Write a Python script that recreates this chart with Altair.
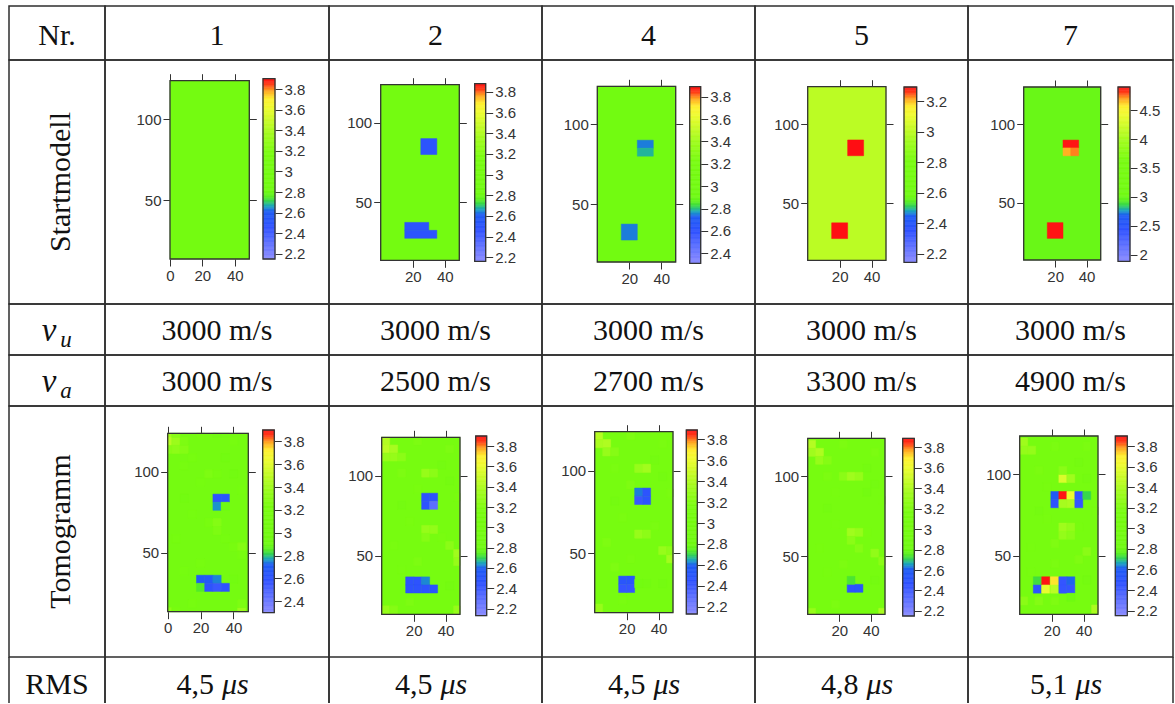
import altair as alt
import numpy as np
import pandas as pd

SERIF = "Liberation Serif"
SANS = "Liberation Sans"
GRID = "#2e2e2e"
INK = "#333333"

# ---------------- table layout ----------------
COL_W = [96, 224, 213, 213, 213, 205]
ROW_H = [54, 244, 51, 51, 251, 46]

# ---------------- table texts ----------------
HEADER = ["Nr.", "1", "2", "4", "5", "7"]
ROW_LABELS = ["Startmodell", "Tomogramm"]
V_U = ["3000 m/s", "3000 m/s", "3000 m/s", "3000 m/s", "3000 m/s"]
V_A = ["3000 m/s", "2500 m/s", "2700 m/s", "3300 m/s", "4900 m/s"]
RMS_NUM = ["4,5", "4,5", "4,5", "4,8", "5,1"]
RMS_UNIT = "μs"

# ---------------- heatmap axes ----------------
X_DOMAIN = [0, 49]
Y_DOMAIN = [13.75, 123.75]
Y_TICKS = [50, 100]
X_TICKS = [[0, 20, 40], [20, 40], [20, 40], [20, 40], [20, 40]]

# colour map (fraction of colour-bar range -> colour)
CMAP_POS = [0.0, 0.10, 0.18, 0.265, 0.295, 0.325, 0.35, 0.38, 0.58, 0.70, 0.84, 0.89, 0.935, 0.97, 1.0]
CMAP_COL = ["#8c8cff", "#5a6eff", "#3052ff", "#1e5cf4", "#1aa6bc", "#36d64c", "#5cf020", "#70fa12",
            "#78fc10", "#a4fc1e", "#eefc30", "#fff030", "#ffa420", "#ff3c18", "#ff1414"]

# ---------------- Startmodell ----------------
START_BASE = [3.0, 3.0, 3.0, 3.0, 3.0]
START_BLOCKS = [  # (x1, x2, y1, y2, value)
    [],
    [(25, 35, 80, 90, 2.5), (15, 30, 32.5, 37.5, 2.5), (15, 35, 27.5, 32.5, 2.5)],
    [(25, 35, 85, 90, 2.75), (25, 35, 80, 85, 2.79), (15, 25, 27.5, 37.5, 2.75)],
    [(25, 35, 80, 90, 3.3), (15, 25, 27.5, 37.5, 3.3)],
    [(25, 35, 85, 90, 4.9), (25, 30, 80, 85, 4.68), (30, 35, 80, 85, 4.74), (15, 25, 27.5, 37.5, 4.9)],
]
START_CB = [(2.15, 3.9), (2.16, 3.88), (2.31, 3.89), (2.145, 3.295), (1.885, 4.9)]
START_CB_TICKS = [
    [2.2, 2.4, 2.6, 2.8, 3.0, 3.2, 3.4, 3.6, 3.8],
    [2.2, 2.4, 2.6, 2.8, 3.0, 3.2, 3.4, 3.6, 3.8],
    [2.4, 2.6, 2.8, 3.0, 3.2, 3.4, 3.6, 3.8],
    [2.2, 2.4, 2.6, 2.8, 3.0, 3.2],
    [2.0, 2.5, 3.0, 3.5, 4.0, 4.5],
]
# (heat L, R, T, B, colourbar L, R, T, B) in cell pixels
START_LAYOUT = [
    (65, 144.3, 20.7, 199, 158, 170, 18.7, 199),
    (51.7, 130.3, 24.7, 200.3, 145.7, 156.7, 23.7, 201.3),
    (55.3, 133.7, 26.3, 202, 147.7, 158.7, 26.7, 203.3),
    (52.7, 131, 26.7, 200.3, 149, 161.7, 27, 202.3),
    (55.7, 132.7, 27, 200, 150, 162, 27, 201.3),
]

# ---------------- Tomogramm ----------------
TOMO_BASE = [3.1, 3.1, 3.1, 3.1, 3.1]
T1_CELLS = [  # (x centre, y centre, value), 5 x 5 cells
    (10, 103.75, 3.18), (20, 93.75, 3.16), (40, 98.75, 3.02), (15, 73.75, 3.16), (35, 58.75, 3.16),
    (20, 43.75, 3.18), (10, 38.75, 3.15), (40, 33.75, 3.02), (35, 108.75, 3.02), (40, 118.75, 3.18),
    (5, 58.75, 3.16), (15, 18.75, 3.18), (20, 123.75, 3.18), (45, 88.75, 3.16), (10, 83.75, 3.04),
    (30, 83.75, 2.6), (35, 83.75, 2.63), (30, 78.75, 2.76), (35, 78.75, 2.92),
    (20, 33.75, 2.7), (25, 33.75, 2.68), (30, 33.75, 2.75),
    (20, 28.75, 2.85), (25, 28.75, 2.6), (30, 28.75, 2.56), (35, 28.75, 2.6),
    (0, 123.75, 3.42), (0, 118.75, 3.48), (5, 118.75, 3.38), (5, 123.75, 3.3), (0, 113.75, 3.3),
    (5, 113.75, 3.32), (10, 113.75, 3.28), (10, 118.75, 3.25), (15, 108.75, 3.2),
    (25, 98.75, 3.25), (30, 98.75, 3.2), (25, 68.75, 3.22), (30, 68.75, 3.28), (30, 63.75, 3.25),
    (40, 53.75, 3.22), (45, 53.75, 3.28), (45, 48.75, 3.22),
    (0, 13.75, 3.32), (5, 13.75, 3.22), (45, 13.75, 3.38), (45, 18.75, 3.25),
    (30, 123.75, 2.98), (35, 123.75, 3.0),
]
T2_CELLS = [
    (12.5, 101.5, 3.18), (22.5, 91.5, 3.16), (42.5, 96.5, 3.02), (17.5, 71.5, 3.16), (37.5, 61.5, 3.16),
    (22.5, 46.5, 3.18), (12.5, 41.5, 3.15), (42.5, 31.5, 3.02), (37.5, 106.5, 3.02), (42.5, 116.5, 3.18),
    (7.5, 56.5, 3.16), (17.5, 21.5, 3.18), (22.5, 121.5, 3.18), (47.5, 86.5, 3.16), (12.5, 81.5, 3.04),
    (27.5, 86.5, 2.47), (32.5, 86.5, 2.47), (27.5, 81.5, 2.47), (32.5, 81.5, 2.3),
    (17.5, 34.5, 2.47), (22.5, 34.5, 2.47), (27.5, 34.5, 2.63),
    (17.5, 29.5, 2.47), (22.5, 29.5, 2.47), (27.5, 29.5, 2.47), (32.5, 29.5, 2.5),
    (2.5, 121.5, 3.42), (2.5, 116.5, 3.45), (7.5, 116.5, 3.38), (7.5, 111.5, 3.3), (2.5, 111.5, 3.3),
    (12.5, 111.5, 3.25), (27.5, 101.5, 3.3), (32.5, 101.5, 3.25), (27.5, 66.5, 3.3), (32.5, 66.5, 3.28),
    (27.5, 61.5, 3.22), (42.5, 56.5, 3.25), (47.5, 51.5, 3.35), (47.5, 46.5, 3.3),
    (2.5, 16.5, 3.3), (7.5, 16.5, 3.22), (47.5, 16.5, 3.3),
]
T4_CELLS = [
    (12.5, 101.5, 3.16), (22.5, 91.5, 3.18), (42.5, 96.5, 3.02), (17.5, 71.5, 3.16), (37.5, 66.5, 3.16),
    (22.5, 46.5, 3.16), (12.5, 41.5, 3.18), (42.5, 31.5, 3.02), (37.5, 106.5, 3.02), (42.5, 116.5, 3.16),
    (7.5, 56.5, 3.18), (17.5, 21.5, 3.16), (22.5, 121.5, 3.18), (47.5, 86.5, 3.16), (12.5, 81.5, 3.04),
    (27.5, 87, 2.62), (32.5, 87, 2.47), (27.5, 82, 2.42), (32.5, 82, 2.47),
    (17.5, 33.5, 2.5), (22.5, 33.5, 2.5), (17.5, 28.5, 2.43), (22.5, 28.5, 2.43),
    (2.5, 121.5, 3.42), (2.5, 116.5, 3.38), (7.5, 116.5, 3.4), (7.5, 111.5, 3.3), (12.5, 111.5, 3.22),
    (27.5, 101.5, 3.3), (32.5, 101.5, 3.35), (27.5, 61.5, 3.3), (32.5, 61.5, 3.25),
    (42.5, 51.5, 3.3), (47.5, 46.5, 3.35), (47.5, 51.5, 3.25), (2.5, 16.5, 3.3),
    (27.5, 31.5, 2.95), (32.5, 31.5, 2.98),
]
T5_CELLS = [
    (12.5, 100, 3.18), (17.5, 90, 3.16), (42.5, 95, 3.02), (17.5, 70, 3.16), (37.5, 65, 3.16),
    (22.5, 45, 3.18), (12.5, 40, 3.15), (42.5, 35, 3.02), (37.5, 105, 3.02), (42.5, 115, 3.18),
    (7.5, 55, 3.16), (17.5, 20, 3.18), (22.5, 120, 3.18), (47.5, 85, 3.16), (12.5, 80, 3.04),
    (27.5, 30, 2.47), (32.5, 30, 2.52), (27.5, 35, 2.74),
    (2.5, 120, 3.42), (2.5, 115, 3.35), (7.5, 115, 3.4), (7.5, 110, 3.3), (12.5, 110, 3.22),
    (22.5, 100, 3.25), (27.5, 100, 3.35), (32.5, 100, 3.3), (37.5, 90, 2.98),
    (27.5, 65, 3.35), (32.5, 65, 3.3), (27.5, 60, 3.25), (32.5, 55, 3.22), (42.5, 52, 3.28),
    (47.5, 47, 3.25), (2.5, 15, 3.3), (47.5, 15, 3.38),
]
T7_CELLS = [
    (12, 102.5, 3.18), (17, 92.5, 3.16), (42, 97.5, 3.02), (17, 72.5, 3.16), (37, 67.5, 3.16),
    (22, 45, 3.18), (7, 40, 3.15), (42, 35, 3.02), (37, 107.5, 3.02), (42, 117.5, 3.18),
    (7, 55, 3.16), (22, 117.5, 3.18), (47.5, 77.5, 3.16), (12, 77.5, 3.04),
    (22, 87, 2.6), (27, 87, 3.9), (32, 87, 3.62), (37, 87, 2.45), (42, 87, 2.72),
    (22, 82, 2.48), (27, 82, 3.38), (32, 82, 3.4), (37, 82, 2.45),
    (27, 97.5, 3.55), (32, 97.5, 3.35), (27, 102.5, 3.25),
    (11, 34.4, 2.73), (16.25, 34.4, 3.9), (21.75, 34.4, 3.72), (27, 34.4, 2.45), (32, 34.4, 2.62),
    (11, 29.3, 2.48), (16.25, 29.3, 3.6), (21.75, 29.3, 3.45), (27, 29.3, 2.45), (32, 29.3, 2.45),
    (32, 24.2, 2.82),
    (2.5, 120, 3.35), (2.5, 115, 3.3), (7.5, 115, 3.3), (27, 67.5, 3.35), (32, 67.5, 3.3),
    (27, 62.5, 3.3), (32, 62.5, 3.25), (22, 57.5, 3.2), (42, 52.5, 3.25), (37, 47.5, 3.2),
    (47.5, 17, 3.4), (2.5, 22, 3.25), (12, 22, 3.22), (22, 22, 3.2),
]
TOMO_CELLS = [T1_CELLS, T2_CELLS, T4_CELLS, T5_CELLS, T7_CELLS]
TOMO_CB = [(2.30, 3.90), (2.13, 3.90), (2.13, 3.89), (2.15, 3.89), (2.15, 3.90)]
TOMO_CB_TICKS = [
    [2.4, 2.6, 2.8, 3.0, 3.2, 3.4, 3.6, 3.8],
    [2.2, 2.4, 2.6, 2.8, 3.0, 3.2, 3.4, 3.6, 3.8],
    [2.2, 2.4, 2.6, 2.8, 3.0, 3.2, 3.4, 3.6, 3.8],
    [2.2, 2.4, 2.6, 2.8, 3.0, 3.2, 3.4, 3.6, 3.8],
    [2.2, 2.4, 2.6, 2.8, 3.0, 3.2, 3.4, 3.6, 3.8],
]
TOMO_LAYOUT = [
    (62.7, 143.3, 27.3, 205.7, 157.7, 169.3, 24, 206.7),
    (52.7, 131, 31.3, 208.3, 146.7, 157.7, 30, 209.7),
    (52.7, 131, 25.7, 206.7, 144.3, 155.3, 24, 208),
    (52.7, 130, 32.3, 208.3, 147.7, 159.3, 32.3, 210),
    (51.7, 130, 30, 208.3, 147.3, 159.3, 30, 209.7),
]

AXIS_STYLE = dict(labelFont=SANS, labelFontSize=15, labelColor=INK, tickColor=INK,
                  tickSize=7, tickWidth=1, domain=False, grid=False, labelPadding=2,
                  labelFlush=False, labelOverlap=False, title="")


def text_layer(text, x, y, size=30, style="normal", align="center", angle=0):
    return alt.Chart(pd.DataFrame({"t": [text]})).mark_text(
        font=SERIF, fontSize=size, fontStyle=style, align=align,
        baseline="alphabetic", angle=angle, color="#111111"
    ).encode(x=alt.value(x), y=alt.value(y), text="t:N")


def text_cell(w, h, layers, rms=False):
    if rms:
        layers = layers + [
            alt.Chart(pd.DataFrame({"e": [0]})).mark_rule(color=GRID, strokeWidth=1.5).encode(
                x=alt.value(0), y=alt.value(0), y2=alt.value(h)),
            alt.Chart(pd.DataFrame({"e": [0]})).mark_rule(color=GRID, strokeWidth=1.5).encode(
                x=alt.value(w), y=alt.value(0), y2=alt.value(h)),
        ]
        return alt.layer(*layers).properties(width=w, height=h, view=alt.ViewBackground(strokeWidth=0))
    return alt.layer(*layers).properties(width=w, height=h)


def heat_panel(w, h, lay, xticks, base, blocks, cb, cbticks):
    L, R, T, B, cL, cR, cT, cB = lay
    lo, hi = cb
    cscale = alt.Scale(domain=[lo + f * (hi - lo) for f in CMAP_POS], range=CMAP_COL, interpolate="rgb")
    rows = [dict(x1=X_DOMAIN[0], x2=X_DOMAIN[1], y1=Y_DOMAIN[0], y2=Y_DOMAIN[1], v=base)]
    rows += [dict(x1=a, x2=b, y1=c, y2=d, v=v) for a, b, c, d, v in blocks]
    xs = alt.Scale(domain=X_DOMAIN, range=[L, R], clamp=True, nice=False, zero=False)
    ys = alt.Scale(domain=Y_DOMAIN, range=[B, T], clamp=True, nice=False, zero=False)
    heat = alt.Chart(pd.DataFrame(rows)).mark_rect(strokeWidth=0.5).encode(
        x=alt.X("x1:Q", scale=xs, axis=alt.Axis(orient="bottom", offset=B - h, values=xticks, **AXIS_STYLE)),
        x2="x2:Q",
        y=alt.Y("y1:Q", scale=ys, axis=alt.Axis(orient="left", offset=-L, values=Y_TICKS, **AXIS_STYLE)),
        y2="y2:Q",
        color=alt.Color("v:Q", scale=cscale, legend=None),
        stroke=alt.Stroke("v:Q", scale=cscale, legend=None),
    )
    fr = pd.DataFrame(dict(x1=[X_DOMAIN[0]], x2=[X_DOMAIN[1]], y1=[Y_DOMAIN[0]], y2=[Y_DOMAIN[1]]))
    frame = alt.Chart(fr).mark_rect(fillOpacity=0, stroke=INK, strokeWidth=1.3).encode(
        x=alt.X("x1:Q", scale=xs, axis=alt.Axis(orient="top", offset=-T, values=xticks, labels=False, **AXIS_STYLE)),
        x2="x2:Q",
        y=alt.Y("y1:Q", scale=ys, axis=alt.Axis(orient="right", offset=R - w, values=Y_TICKS, labels=False, **AXIS_STYLE)),
        y2="y2:Q",
    )
    edges = np.linspace(lo, hi, 141)
    cbdf = pd.DataFrame(dict(a=0.0, b=1.0, y1=edges[:-1], y2=edges[1:], v=(edges[:-1] + edges[1:]) / 2))
    cbx = alt.Scale(domain=[0, 1], range=[cL, cR], nice=False, zero=False)
    cby = alt.Scale(domain=[lo, hi], range=[cB, cT], nice=False, zero=False)
    cbar = alt.Chart(cbdf).mark_rect(strokeWidth=0.6).encode(
        x=alt.X("a:Q", scale=cbx, axis=None),
        x2="b:Q",
        y=alt.Y("y1:Q", scale=cby, axis=alt.Axis(orient="right", offset=cR - w, values=cbticks,
                                                    format="~g", **AXIS_STYLE)),
        y2="y2:Q",
        color=alt.Color("v:Q", scale=cscale, legend=None),
        stroke=alt.Stroke("v:Q", scale=cscale, legend=None),
    )
    cbf = alt.Chart(pd.DataFrame(dict(a=[0.0], b=[1.0], y1=[lo], y2=[hi]))).mark_rect(
        fillOpacity=0, stroke=INK, strokeWidth=1.3).encode(
        x=alt.X("a:Q", scale=cbx, axis=None), x2="b:Q",
        y=alt.Y("y1:Q", scale=cby, axis=None), y2="y2:Q",
    )
    return alt.layer(heat, frame, cbar, cbf).resolve_scale(
        x="independent", y="independent", color="independent", stroke="independent"
    ).properties(width=w, height=h)


cells = []
# header
cells += [text_cell(COL_W[i], ROW_H[0], [text_layer(HEADER[i], COL_W[i] / 2, 38.5)]) for i in range(6)]
# Startmodell
cells.append(text_cell(COL_W[0], ROW_H[1], [text_layer(ROW_LABELS[0], 61, ROW_H[1] / 2, angle=270)]))
for i in range(5):
    cells.append(heat_panel(COL_W[i + 1], ROW_H[1], START_LAYOUT[i], X_TICKS[i], START_BASE[i],
                            START_BLOCKS[i], START_CB[i], START_CB_TICKS[i]))
# v_u and v_a
for sub, vals, h in (("u", V_U, ROW_H[2]), ("a", V_A, ROW_H[3])):
    cells.append(text_cell(COL_W[0], h, [text_layer("v", 40, 37, size=33, style="italic"),
                                         text_layer(sub, 57, 43, size=23, style="italic")]))
    for i in range(5):
        cells.append(text_cell(COL_W[i + 1], h, [text_layer(vals[i], COL_W[i + 1] / 2, 35.5)]))
# Tomogramm
cells.append(text_cell(COL_W[0], ROW_H[4], [text_layer(ROW_LABELS[1], 61, ROW_H[4] / 2, angle=270)]))
for i in range(5):
    blocks = [(x - 2.5, x + 2.5, y - 2.5, y + 2.5, v) for x, y, v in TOMO_CELLS[i]]
    cells.append(heat_panel(COL_W[i + 1], ROW_H[4], TOMO_LAYOUT[i], X_TICKS[i], TOMO_BASE[i],
                            blocks, TOMO_CB[i], TOMO_CB_TICKS[i]))
# RMS
cells.append(text_cell(COL_W[0], ROW_H[5], [text_layer("RMS", COL_W[0] / 2, 36.5)], rms=True))
for i in range(5):
    w = COL_W[i + 1]
    cells.append(text_cell(w, ROW_H[5], [
        text_layer(RMS_NUM[i], w / 2 - 3, 36.5, align="right"),
        text_layer(RMS_UNIT, w / 2 + 5, 36.5, style="italic", align="left"),
    ], rms=True))

chart = alt.concat(*cells, columns=6, spacing=0, bounds="flush", align="each").resolve_scale(
    x="independent", y="independent", color="independent", stroke="independent"
).properties(
    padding={"left": 8, "top": 5, "right": 0, "bottom": 0},
    background="white",
).configure_view(stroke=GRID, strokeWidth=1.5)

chart.save("out.html", embed_options={"renderer": "svg", "actions": False})
